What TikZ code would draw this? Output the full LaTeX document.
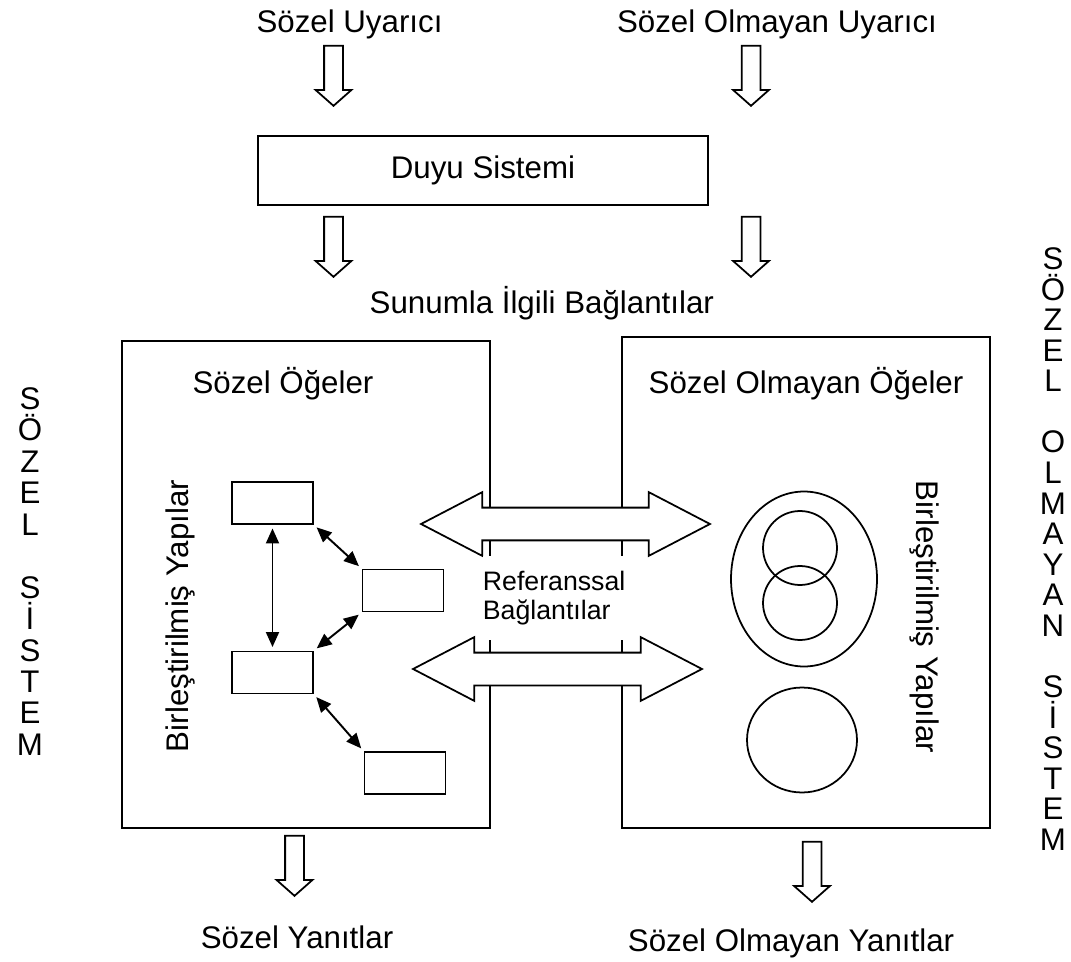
\documentclass[tikz,border=0pt]{standalone}
\usepackage{fontspec}
\setmainfont{Liberation Sans}
\usetikzlibrary{arrows.meta,shapes.arrows,shapes.geometric}

\begin{document}
\begin{tikzpicture}[
  x=0.02cm, y=-0.02cm,
  font=\fontsize{17.8}{21}\selectfont,
  line width=1pt,
  box/.style={draw, inner sep=0pt},
  unit/.style={draw, line width=1.1pt, minimum width=1.62cm, minimum height=0.84cm, inner sep=0pt},
  link/.style={{Triangle[length=0.3cm,width=0.26cm]}-{Triangle[length=0.3cm,width=0.26cm]}, line width=1.1pt, shorten <=2pt, shorten >=2pt},
  flow/.style={draw, single arrow, rotate=-90, anchor=tip, inner xsep=0pt, inner ysep=0.17cm,
    minimum height=1.2cm, single arrow head extend=0.17cm, single arrow tip angle=97, fill=white},
  bridge/.style={draw, double arrow, fill=white, inner xsep=0pt, inner ysep=0.31cm,
    minimum height=5.78cm, double arrow head extend=0.31cm, double arrow tip angle=55},
  ring/.style={draw, circle, minimum size=1.48cm, inner sep=0pt},
  column/.style={align=center, inner sep=0pt}
]
\useasboundingbox (0,0) rectangle (1071,962);

% stimuli and sensory system
\node[anchor=base] (vin) at (349.5,33) {Sözel Uyarıcı};
\node[anchor=base] (nvin) at (777,33) {Sözel Olmayan Uyarıcı};
\node[flow] (in1) at (333.5,107) {};
\node[flow] (in2) at (751,107) {};
\node[box, minimum width=9cm, minimum height=1.38cm] (sense) at (483,170.5) {Duyu Sistemi};
\node[flow] (rep1) at (333.5,278) {};
\node[flow] (rep2) at (751,278) {};
\node[anchor=base west] (replab) at (363,314) {Sunumla İlgili Bağlantılar};

% the two systems
\node[box, minimum width=7.36cm, minimum height=9.74cm] (verbal) at (306,584.5) {};
\node[box, minimum width=7.36cm, minimum height=9.82cm] (nonverbal) at (806,582.5) {};
\node[anchor=base] (vtitle) at (283,394) {Sözel Öğeler};
\node[anchor=base] (nvtitle) at (806,394) {Sözel Olmayan Öğeler};
\node[rotate=90] (vlab) at (180,616) {Birleştirilmiş Yapılar};
\node[rotate=-90] (nvlab) at (925,617) {Birleştirilmiş Yapılar};

% verbal units
\node[unit] (u1) at (272.5,503) {};
\node[unit] (u2) at (403,590.5) {};
\node[unit] (u3) at (272.5,672.5) {};
\node[unit] (u4) at (405,773) {};
\draw[link] (u1.south) -- (u3.north);
\draw[link] (u1.south east) -- (u2.north west);
\draw[link] (u3.north east) -- (u2.south west);
\draw[link] (u3.south east) -- (u4.north west);

% nonverbal units
\node[draw, ellipse, minimum width=2.92cm, minimum height=3.5cm, inner sep=0pt] (outer) at (804,579) {};
\node[ring] (c1) at (800,548) {};
\node[ring] (c2) at (800,603) {};
\node[draw, ellipse, minimum width=2.2cm, minimum height=2.1cm, inner sep=0pt] (c3) at (802,740) {};

% referential links
\node[bridge] (ref1) at (565.5,524) {};
\node[bridge] (ref2) at (557.5,669) {};
\node[anchor=west, fill=white, align=left, text width=2.9cm, inner xsep=0pt, inner ysep=0pt,
  minimum height=1.7cm, font=\fontsize{15.2}{16.4}\selectfont] (reflab) at (482,598) {Referanssal\\Bağlantılar};

% responses
\node[flow] (out1) at (294.5,897) {};
\node[flow] (out2) at (812,903) {};
\node[anchor=base] (vout) at (297,948) {Sözel Yanıtlar};
\node[anchor=base] (nvout) at (791,951) {Sözel Olmayan Yanıtlar};

% side labels
\node[column, font=\fontsize{17.8}{17.9}\selectfont] (vsys) at (30,571.5)
  {S\\Ö\\Z\\E\\L\\~\\S\\İ\\S\\T\\E\\M};
\node[column, font=\fontsize{17.8}{17.4}\selectfont] (nvsys) at (1053,549)
  {S\\Ö\\Z\\E\\L\\~\\O\\L\\M\\A\\Y\\A\\N\\~\\S\\İ\\S\\T\\E\\M};

\end{tikzpicture}
\end{document}
